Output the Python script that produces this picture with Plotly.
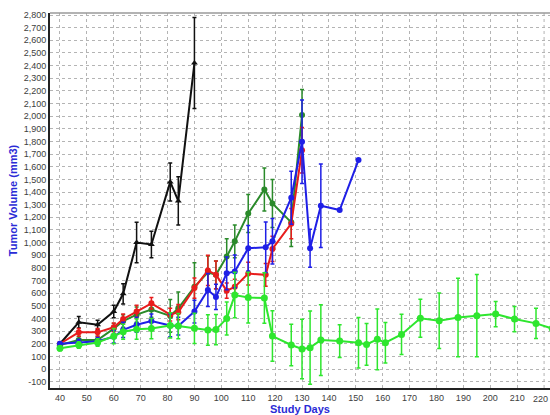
import plotly.graph_objects as go

# Study days and mean tumor volume (mm3) with error bars per group
days_black = [40, 47, 54, 60, 63.5, 68.5, 74, 81, 84, 90]
vol_black = [200, 370, 350, 455, 595, 1000, 985, 1480, 1330, 2420]
err_black = [15, 45, 35, 50, 80, 160, 105, 150, 190, 360]

days_red = [40, 47, 54, 60, 63.5, 68.5, 74, 81, 84, 90, 95, 98, 102, 105, 110, 116.5, 119, 126, 130]
vol_red = [200, 290, 290, 330, 395, 455, 520, 430, 450, 640, 780, 745, 620, 650, 755, 745, 950, 1150, 1730]
err_red = [15, 30, 30, 35, 40, 50, 45, 50, 60, 80, 120, 110, 60, 60, 90, 90, 100, 120, 180]

days_dkgreen = [40, 47, 54, 60, 63.5, 68.5, 74, 81, 84, 90, 95, 98, 102, 105, 110, 116, 119, 126, 130]
vol_dkgreen = [190, 230, 230, 320, 380, 430, 470, 420, 480, 650, 765, 745, 890, 1010, 1230, 1420, 1310, 1160, 2010]
err_dkgreen = [15, 30, 30, 40, 50, 60, 60, 130, 130, 190, 130, 110, 140, 130, 150, 170, 190, 190, 200]

days_blue = [40, 47, 54, 60, 63.5, 68.5, 74, 81, 84, 90, 95, 98, 102, 105, 110, 116.5, 119, 126, 130, 133, 137, 144, 151]
vol_blue = [200, 210, 220, 255, 310, 350, 380, 345, 340, 455, 625, 570, 757, 772, 955, 963, 1010, 1355, 1798, 955, 1292, 1258, 1653]
err_blue = [15, 25, 30, 50, 60, 60, 55, 90, 70, 90, 130, 100, 130, 130, 180, 200, 180, 210, 330, 150, 330, 0, 0]

days_ltgreen = [40, 47, 54, 60, 63.5, 68.5, 74, 81, 84, 90, 95, 98, 102, 105, 110, 116, 119, 126, 130, 133,
                137, 144, 151, 154, 158, 161, 167, 174, 181, 188, 195, 202, 209, 217, 223]
vol_ltgreen = [165, 190, 210, 260, 295, 315, 320, 345, 340, 322, 309, 312, 400, 585, 565, 562, 261, 190, 158, 169,
               229, 221, 208, 195, 235, 208, 274, 401, 382, 408, 422, 435, 395, 361, 320]
err_ltgreen = [20, 25, 30, 60, 60, 80, 80, 100, 100, 120, 120, 120, 130, 180, 200, 200, 200, 165, 235, 290,
               280, 130, 200, 165, 240, 160, 160, 150, 220, 310, 325, 100, 100, 120, 100]

x_ticks = list(range(40, 230, 10))
y_ticks = list(range(-100, 2900, 100))

groups = [
    (days_black, vol_black, err_black, "#111111", "triangle-up", 6),
    (days_dkgreen, vol_dkgreen, err_dkgreen, "#2a8a2a", "circle", 6),
    (days_red, vol_red, err_red, "#e81c1c", "circle", 6),
    (days_blue, vol_blue, err_blue, "#1f1fe6", "circle", 6),
    (days_ltgreen, vol_ltgreen, err_ltgreen, "#2ee62e", "circle", 7),
]

fig = go.Figure()
for xs, ys, es, color, sym, size in groups:
    fig.add_trace(go.Scatter(
        x=xs, y=ys, mode="lines+markers",
        line=dict(color=color, width=2),
        marker=dict(color=color, symbol=sym, size=size),
        error_y=dict(type="data", array=es, visible=True, color=color, thickness=1.5, width=2),
        showlegend=False,
    ))

tick_font = dict(family="Liberation Sans, Arial, sans-serif", size=9, color="#404040")
title_font = dict(family="Liberation Sans, Arial, sans-serif", size=11, color="#2b2bd6")

x_range = [36.3, 222.2]
shown_x = [v for v in x_ticks if v <= 215]
edge_x = [v for v in x_ticks if v > 215]

fig.update_layout(
    width=550, height=415,
    margin=dict(l=50, r=0, t=13, b=27),
    paper_bgcolor="white", plot_bgcolor="white",
    xaxis=dict(
        range=x_range, tickvals=shown_x, ticktext=[str(v) for v in shown_x],
        tickfont=tick_font, showgrid=True, gridcolor="#b4b4b4", griddash="dot", gridwidth=1,
        zeroline=False, showline=True, linecolor="#222222", linewidth=2,
        ticks="", title=dict(text="<b>Study Days</b>", font=title_font, standoff=2),
    ),
    yaxis=dict(
        range=[-150, 2816], tickvals=y_ticks, ticktext=[f"{v:,}" for v in y_ticks],
        tickfont=tick_font, showgrid=True, gridcolor="#b4b4b4", griddash="dot", gridwidth=1,
        zeroline=False, showline=True, linecolor="#222222", linewidth=2,
        ticks="", title=dict(text="<b>Tumor Volume (mm3)</b>", font=title_font, standoff=4),
    ),
    shapes=[dict(type="line", xref="paper", yref="paper", x0=0, x1=1, y0=1, y1=1,
                 line=dict(color="#9a9a9a", width=1.5))]
    # gridline for the last day tick, which sits at the right edge
    + [dict(type="line", xref="x", yref="paper", x0=v, x1=v, y0=0, y1=1,
            line=dict(color="#b4b4b4", width=1, dash="dot"), layer="below") for v in edge_x],
    # last day tick label would overflow the right edge, so it is tucked against it
    annotations=[dict(x=1, xref="paper", y=0, yref="paper", yshift=-4, text=str(v),
                      showarrow=False, xanchor="right", yanchor="top", font=tick_font)
                 for v in edge_x],
)

fig.write_html("out.html")
